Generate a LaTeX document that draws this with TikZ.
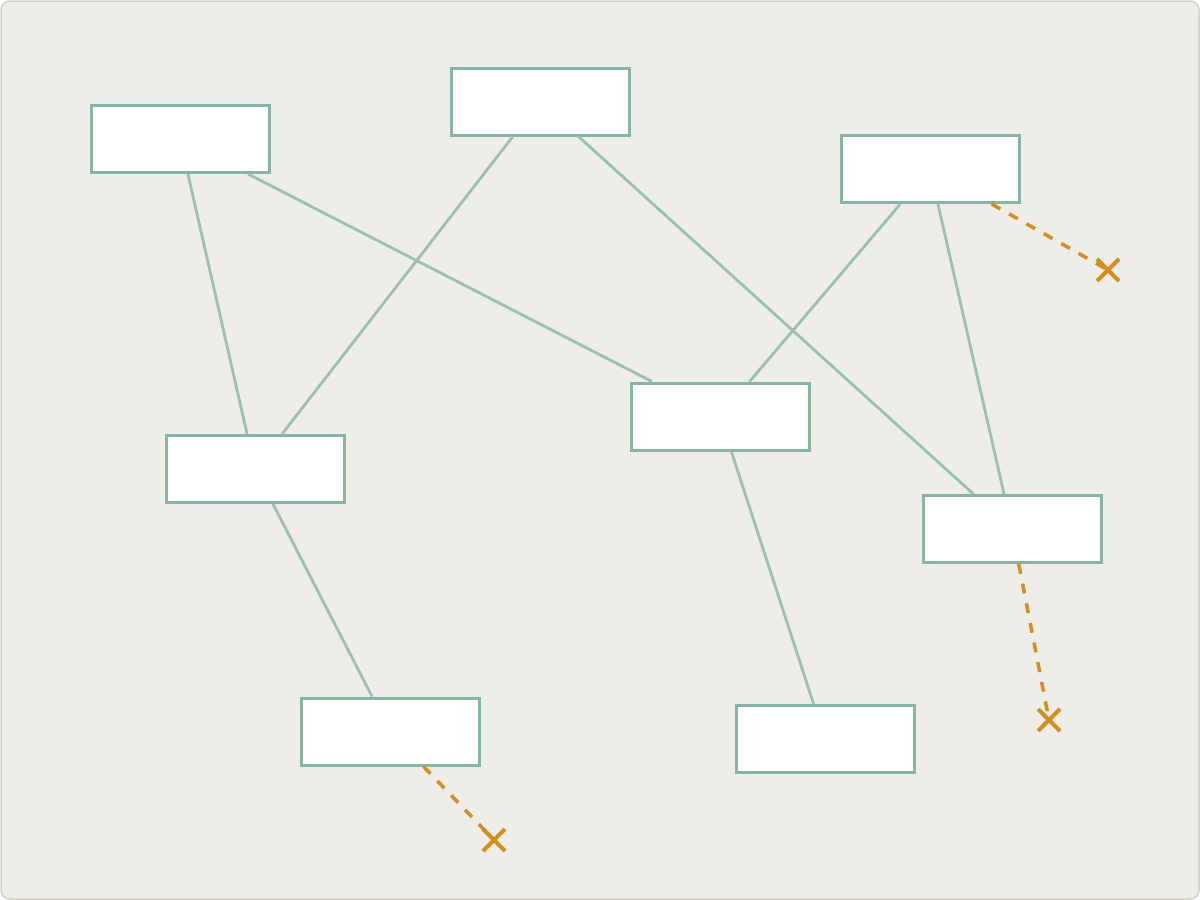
\documentclass[tikz,border=0pt]{standalone}
\definecolor{bgfill}{HTML}{EEEDE8}
\definecolor{bgline}{HTML}{D2D0C8}
\definecolor{boxline}{HTML}{86B5A1}
\definecolor{edgeline}{HTML}{9DC1B1}
\definecolor{dashorange}{HTML}{D38F22}
\begin{document}
\begin{tikzpicture}[x=1pt,y=-1pt,
  card/.style={draw=boxline,fill=white,line width=3pt,minimum width=178pt,minimum height=67pt,inner sep=0pt,rectangle},
  link/.style={draw=edgeline,line width=2.8pt},
  loose/.style={draw=dashorange,line width=3.5pt,dash pattern=on 10pt off 10pt},
  xmark/.style={draw=dashorange,line width=4pt}]
\useasboundingbox (0,0) rectangle (1200,900);
\fill[bgfill,draw=bgline,line width=1.5pt,rounded corners=9pt] (1,1) rectangle (1199,899);
\node[card] (A) at (180,139) {};
\node[card] (B) at (540,101.5) {};
\node[card] (C) at (930,169) {};
\node[card] (D) at (720,416.5) {};
\node[card] (E) at (255,469) {};
\node[card] (F) at (1012,529) {};
\node[card] (G) at (390,731.5) {};
\node[card] (H) at (825,739) {};
\draw[link] (A) -- (E);
\draw[link] (A) -- (D);
\draw[link] (B) -- (E);
\draw[link] (B) -- (F);
\draw[link] (C) -- (D);
\draw[link] (C) -- (F);
\draw[link] (E) -- (G);
\draw[link] (D) -- (H);
\coordinate (xc) at (1108,270);
\coordinate (xf) at (1049,720);
\coordinate (xg) at (494,840);
\draw[loose] (C) -- (xc);
\draw[loose] (F) -- (xf);
\draw[loose] (G) -- (xg);
\foreach \p in {xc,xf,xg}{
  \draw[xmark] ([shift={(-11,-11)}]\p) -- ([shift={(11,11)}]\p);
  \draw[xmark] ([shift={(-11,11)}]\p) -- ([shift={(11,-11)}]\p);
}
\end{tikzpicture}
\end{document}
